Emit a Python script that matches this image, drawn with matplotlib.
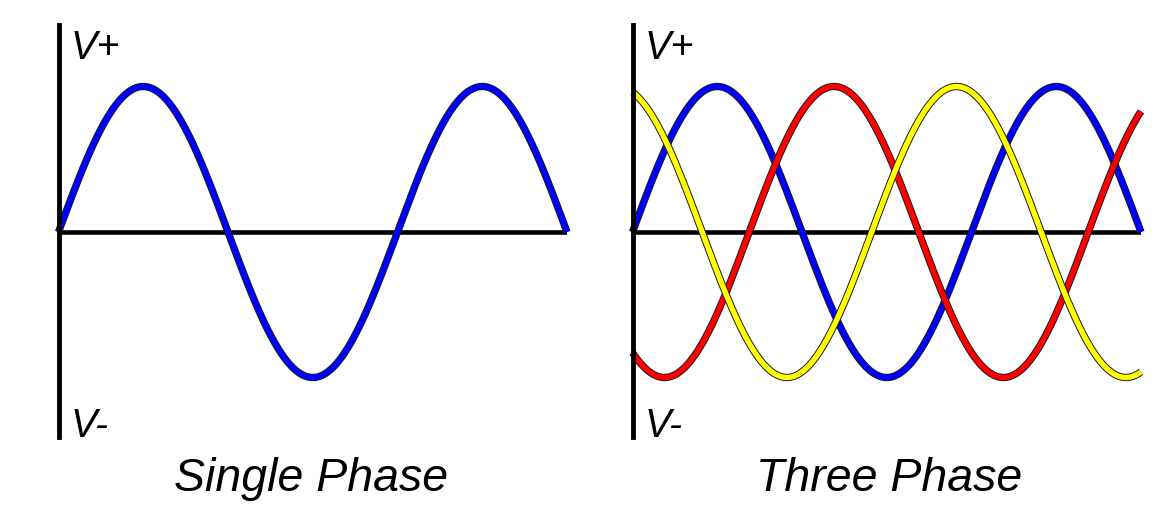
import numpy as np
import matplotlib
matplotlib.use("Agg")
import matplotlib.pyplot as plt
import matplotlib.patheffects as pe

# ---- data ----
panel_titles = ["Single Phase", "Three Phase"]
axis_top_label = "V+"
axis_bottom_label = "V-"
cycles = 1.5                      # number of cycles shown in each panel
amplitude = 1.0
single_phase_offsets_deg = [0]
three_phase_offsets_deg = [0, -124, 106]   # blue, red, yellow

# ---- style ----
W, H = 1167, 514
fig = plt.figure(figsize=(W / 100, H / 100), dpi=100)
FONT = "Liberation Sans"
single_colors = ["#0000ff"]
three_colors = ["#0000ff", "#ff0000", "#ffff00"]

# pixel layout of the two panels: (left, right) x-extent; shared vertical extent
panels_px = [(58.5, 567), (632.5, 1141)]
top_px, bottom_px, zero_px, amp_px = 25, 437, 232, 145.5
ylim = (-(bottom_px - zero_px) / amp_px, (zero_px - top_px) / amp_px)
title_centers_px = [311, 889]

theta = np.linspace(0, 360 * cycles, 1200)

for i, (offsets, colors) in enumerate(
        [(single_phase_offsets_deg, single_colors),
         (three_phase_offsets_deg, three_colors)]):
    x0, x1 = panels_px[i]
    ax = fig.add_axes([x0 / W, (H - bottom_px) / H, (x1 - x0) / W,
                       (bottom_px - top_px) / H])
    ax.set_xlim(0, 360 * cycles)
    ax.set_ylim(*ylim)
    ax.set_xticks([])
    ax.set_yticks([])
    ax.patch.set_visible(False)
    for s in ["top", "right", "bottom"]:
        ax.spines[s].set_visible(False)
    ax.spines["left"].set_linewidth(3.5)
    ax.spines["left"].set_color("black")
    ax.spines["left"].set_zorder(5)

    ax.axhline(0, color="black", lw=3.3, zorder=1, solid_capstyle="butt")

    for k, (off, c) in enumerate(zip(offsets, colors)):
        y = amplitude * np.sin(np.radians(theta + off))
        ax.plot(theta, y, color=c, lw=3.9, solid_capstyle="butt",
                clip_on=False, zorder=2 + k * 0.1,
                path_effects=[pe.Stroke(linewidth=5.3, foreground="#1a1a1a"),
                              pe.Normal()])

    fig.text((x0 + 12) / W, 1 - 59 / H, axis_top_label, fontsize=28.5,
             fontstyle="italic", family=FONT, ha="left", va="baseline")
    fig.text((x0 + 12) / W, 1 - 437 / H, axis_bottom_label, fontsize=28.5,
             fontstyle="italic", family=FONT, ha="left", va="baseline")
    fig.text(title_centers_px[i] / W, 1 - 491 / H, panel_titles[i],
             fontsize=33.5, fontstyle="italic", family=FONT, ha="center",
             va="baseline")

fig.savefig("out.png", dpi=100, facecolor="white")
